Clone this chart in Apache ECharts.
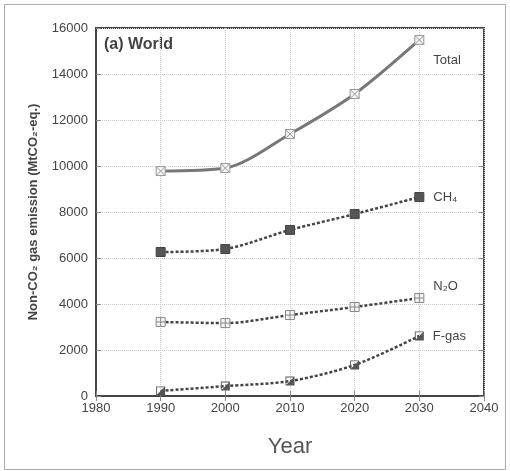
<!DOCTYPE html>
<html>
<head>
<meta charset="utf-8">
<script src="https://cdn.jsdelivr.net/npm/echarts@6/dist/echarts.min.js"></script>
<style>
  html, body { margin: 0; padding: 0; background: #fff; }
  #chart { width: 510px; height: 471px; }
</style>
</head>
<body>
<div id="chart"></div>
<script>
const years = [1990, 2000, 2010, 2020, 2030]
const total = [9780, 9910, 11390, 13130, 15480]
const ch4 = [6260, 6390, 7220, 7910, 8650]
const n2o = [3220, 3170, 3520, 3870, 4260]
const fgas = [220, 430, 650, 1350, 2610]

const xTicks = [1980, 1990, 2000, 2010, 2020, 2030, 2040]

const font = 'Liberation Sans, Arial, sans-serif'
const crossBox = 'path://M0,0L10,0L10,10L0,10Z M0,0L10,10 M10,0L0,10'
const plusBox = 'path://M0,0L10,0L10,10L0,10Z M5,0L5,10 M0,5L10,5'
// square ring plus a filled lower-left triangle
const halfBox = 'path://M0,0L10,0L10,10L0,10Z M1,1L1,9L9,9L9,1Z M1,9L9,9L9,1Z'

function pairs(values) {
    return years.map((y, i) => [y, values[i]])
}

function withEndLabel(values, text, offset) {
    let data = pairs(values)
    let last = data.length - 1
    data[last] = {
        value: data[last],
        label: {
            show: true,
            formatter: text,
            position: 'right',
            offset: offset,
            fontFamily: font,
            fontSize: 13,
            color: '#444'
        }
    }
    return data
}

let myChart = echarts.init(document.getElementById('chart'))

let option = {
    backgroundColor: '#fff',
    animation: false,
    grid: {
        left: 96,
        right: 26,
        top: 28,
        bottom: 75,
        show: true,
        borderColor: '#444',
        borderWidth: 2
    },
    graphic: [
        {
            type: 'rect',
            shape: { x: 4.5, y: 4.5, width: 501, height: 465 },
            style: { fill: 'none', stroke: '#aaa', lineWidth: 1 }
        },
        {
            type: 'text',
            left: 104,
            top: 37,
            style: {
                text: '(a) World',
                fontFamily: font,
                fontSize: 16,
                fontWeight: 'bold',
                fill: '#444'
            }
        }
    ],
    xAxis: [
        {
            type: 'value',
            min: 1980,
            max: 2040,
            interval: 10,
            name: 'Year',
            nameLocation: 'middle',
            nameGap: 40,
            nameTextStyle: { fontFamily: font, fontSize: 22, color: '#555' },
            axisLine: { lineStyle: { color: '#444', width: 2 } },
            axisTick: { inside: true, length: 5, lineStyle: { color: '#888' } },
            axisLabel: {
                fontFamily: font,
                fontSize: 13,
                color: '#444',
                margin: 6,
                formatter: v => xTicks.includes(v) ? String(v) : ''
            },
            splitLine: { show: true, lineStyle: { type: 'dotted', color: '#ccc' } }
        },
        {
            type: 'value',
            position: 'top',
            min: 1980,
            max: 2040,
            interval: 10,
            axisLine: { show: false },
            axisTick: { inside: true, length: 5, lineStyle: { color: '#888' } },
            axisLabel: { show: false },
            splitLine: { show: false }
        }
    ],
    yAxis: [
        {
            type: 'value',
            min: 0,
            max: 16000,
            interval: 2000,
            name: 'Non-CO\u2082 gas emission (MtCO\u2082-eq.)',
            nameLocation: 'middle',
            nameGap: 56,
            nameTextStyle: { fontFamily: font, fontSize: 13, fontWeight: 'bold', color: '#444' },
            axisLine: { lineStyle: { color: '#444', width: 2 } },
            axisTick: { inside: true, length: 5, lineStyle: { color: '#888' } },
            axisLabel: {
                fontFamily: font,
                fontSize: 13,
                color: '#444',
                margin: 8,
                formatter: v => String(v)
            },
            splitLine: { show: true, lineStyle: { type: 'dotted', color: '#ccc' } }
        },
        {
            type: 'value',
            position: 'right',
            min: 0,
            max: 16000,
            interval: 2000,
            axisLine: { show: false },
            axisTick: { show: true, inside: true, length: 5, lineStyle: { color: '#888' } },
            axisLabel: { show: false },
            splitLine: { show: false }
        }
    ],
    series: [
        {
            name: 'Total',
            type: 'line',
            smooth: 0.3,
            data: withEndLabel(total, 'Total', [4, 20]),
            lineStyle: { color: '#777', width: 3 },
            symbol: crossBox,
            symbolSize: 9,
            itemStyle: { color: '#f4f4f4', borderColor: '#999', borderWidth: 1 }
        },
        {
            name: 'CH4',
            type: 'line',
            smooth: 0.3,
            data: withEndLabel(ch4, 'CH\u2084', [4, 0]),
            lineStyle: { color: '#444', width: 2.5, type: [3, 2] },
            symbol: 'rect',
            symbolSize: 9,
            itemStyle: { color: '#555', borderColor: '#444', borderWidth: 1 }
        },
        {
            name: 'N2O',
            type: 'line',
            smooth: 0.3,
            data: withEndLabel(n2o, 'N\u2082O', [4, -12]),
            lineStyle: { color: '#444', width: 2.5, type: [3, 2] },
            symbol: plusBox,
            symbolSize: 9,
            itemStyle: { color: '#f4f4f4', borderColor: '#888', borderWidth: 1 }
        },
        {
            name: 'F-gas',
            type: 'line',
            smooth: 0.3,
            data: withEndLabel(fgas, 'F-gas', [4, 0]),
            lineStyle: { color: '#444', width: 2.5, type: [3, 2] },
            symbol: halfBox,
            symbolSize: 9,
            itemStyle: { color: '#555', borderWidth: 0 }
        }
    ]
}

myChart.setOption(option)
</script>
</body>
</html>
